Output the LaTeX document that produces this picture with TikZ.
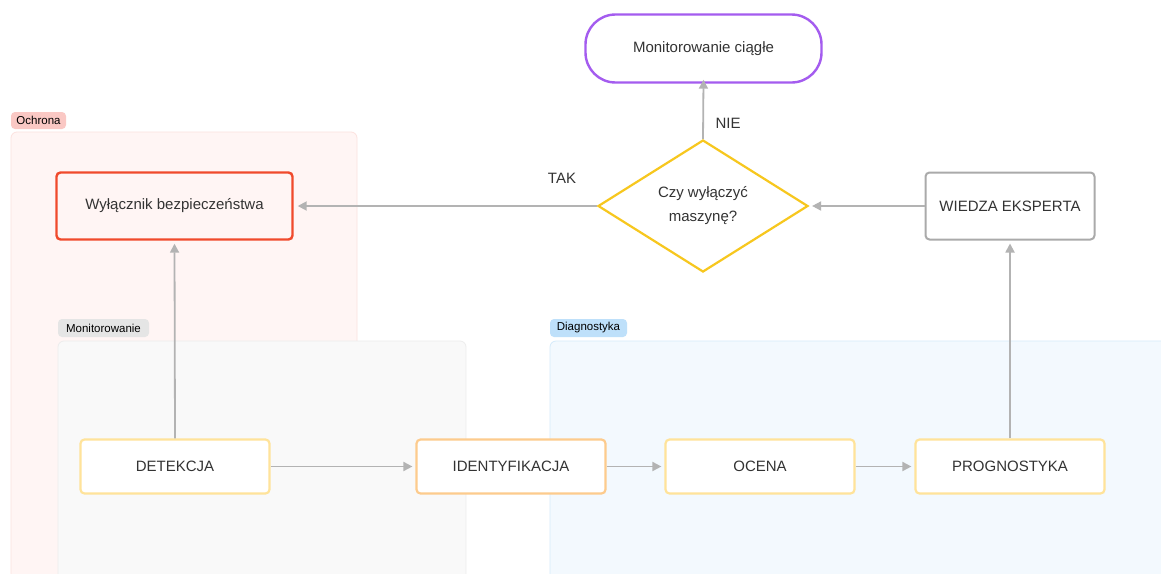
\documentclass[tikz,border=0pt]{standalone}
\usepackage{fontspec}
\setmainfont{Liberation Sans}
\usetikzlibrary{arrows.meta,shapes.geometric}
\definecolor{txt}{HTML}{333333}
\definecolor{arr}{HTML}{B3B3B3}
\definecolor{ochfill}{HTML}{FFF5F4}
\definecolor{ochline}{HTML}{FCE2DF}
\definecolor{ochlab}{HTML}{FAC8C4}
\definecolor{monfill}{HTML}{F9F9F9}
\definecolor{monline}{HTML}{EDEDED}
\definecolor{monlab}{HTML}{E5E5E5}
\definecolor{diafill}{HTML}{F3F9FE}
\definecolor{dialine}{HTML}{D5EBFB}
\definecolor{dialab}{HTML}{BEE0FA}
\definecolor{redb}{HTML}{F04A2C}
\definecolor{purb}{HTML}{A45CEF}
\definecolor{yelb}{HTML}{F7C71E}
\definecolor{lyel}{HTML}{FFE39A}
\definecolor{lora}{HTML}{FDCB8D}
\definecolor{grayb}{HTML}{AAAAAA}
\tikzset{
  grouprect/.style={rounded corners=6pt, line width=0.8pt},
  grouplab/.style={rounded corners=4pt, inner sep=0pt, font=\fontsize{11.5}{13}\selectfont, text=black, anchor=center},
  box/.style={rectangle, rounded corners=4pt, text=txt, font=\fontsize{15}{18}\selectfont, inner sep=0pt, fill=white},
  conn/.style={draw=arr, line width=1.8pt, -{Triangle[length=9pt,width=9pt]}},
  elabel/.style={text=txt, font=\fontsize{15}{18}\selectfont}
}
\begin{document}
\begin{tikzpicture}[x=1pt,y=-1pt]
\useasboundingbox (0,0) rectangle (1161,573);
\clip (0,0) rectangle (1161,573);
\fill[white] (0,0) rectangle (1161,573);
% groups
\draw[grouprect, fill=ochfill, draw=ochline] (11,132) rectangle (357,600);
\node[grouplab, fill=ochlab, minimum width=55pt, minimum height=17pt] (gOch) at (38.5,120.5) {Ochrona};
\draw[grouprect, fill=monfill, draw=monline] (58,341) rectangle (466,600);
\node[grouplab, fill=monlab, minimum width=91pt, minimum height=18pt] (gMon) at (103.5,328) {Monitorowanie};
\draw[grouprect, fill=diafill, draw=dialine] (550,341) rectangle (1200,600);
\node[grouplab, fill=dialab, minimum width=77pt, minimum height=18pt] (gDia) at (588.5,328) {Diagnostyka};
% nodes
\node[box, draw=redb, line width=2.4pt, fill=ochfill, minimum width=236pt, minimum height=67pt] (wyl) at (174.5,206) {Wyłącznik bezpieczeństwa};
\node[box, draw=purb, line width=2.4pt, rounded corners=30pt, minimum width=236pt, minimum height=68pt] (mon) at (703.5,48.5) {Monitorowanie ciągłe};
\node[diamond, draw=yelb, line width=2.2pt, fill=white, text=txt, inner sep=0pt, aspect=1.59, minimum width=210pt, minimum height=132pt, align=center, font=\fontsize{15}{24}\selectfont] (dec) at (703,206) {Czy wyłączyć\\maszynę?};
\node[box, draw=grayb, line width=2pt, minimum width=169pt, minimum height=67pt] (wie) at (1010,206) {WIEDZA EKSPERTA};
\node[box, draw=lyel, line width=2.2pt, minimum width=189pt, minimum height=54pt] (det) at (175,466.5) {DETEKCJA};
\node[box, draw=lora, line width=2.2pt, minimum width=189pt, minimum height=54pt] (ide) at (511,466.5) {IDENTYFIKACJA};
\node[box, draw=lyel, line width=2.2pt, minimum width=189pt, minimum height=54pt] (oce) at (760,466.5) {OCENA};
\node[box, draw=lyel, line width=2.2pt, minimum width=189pt, minimum height=54pt] (pro) at (1010,466.5) {PROGNOSTYKA};
% connectors
\draw[conn] (det.north) -- ([yshift=-3pt]wyl.south);
\draw[conn] (det.east) -- ([xshift=-3pt]ide.west);
\draw[conn] (ide.east) -- ([xshift=-3pt]oce.west);
\draw[conn] (oce.east) -- ([xshift=-3pt]pro.west);
\draw[conn] (pro.north) -- ([yshift=-3pt]wie.south);
\draw[conn] (wie.west) -- ([xshift=3pt]dec.east);
\draw[conn] (dec.west) -- ([xshift=4pt]wyl.east);
\draw[conn] (dec.north) -- ([yshift=4pt]mon.south);
\node[elabel] (tak) at (562,178) {TAK};
\node[elabel] (nie) at (728,123) {NIE};
\end{tikzpicture}
\end{document}
